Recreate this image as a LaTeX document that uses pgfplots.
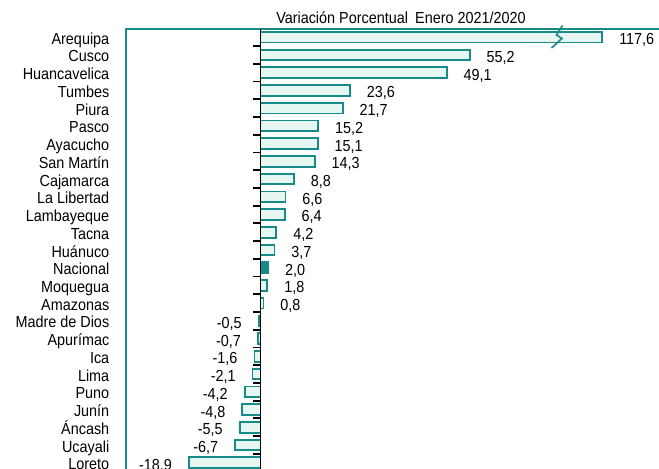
\documentclass[border=0pt]{standalone}
\usepackage{fontspec}
\setmainfont{Liberation Sans}[FakeStretch=0.9]
\usepackage{pgfplots}
\usepackage{pgfplotstable}
\pgfplotsset{compat=1.18}

\definecolor{tealc}{RGB}{23,138,138}
\definecolor{mint}{RGB}{230,247,241}
\newcommand\lbl{\fontsize{12}{14}\selectfont}

% x = value (Arequipa drawn shortened: axis break), y = row, lab = printed value
\pgfplotstableread{
x y lab
90.2 0 117,6
55.2 1 55,2
49.1 2 49,1
23.6 3 23,6
21.7 4 21,7
15.2 5 15,2
15.1 6 15,1
14.3 7 14,3
8.8 8 8,8
6.6 9 6,6
6.4 10 6,4
4.2 11 4,2
3.7 12 3,7
1.8 14 1,8
0.8 15 0,8
}\pos

\pgfplotstableread{
x y lab
2.0 13 2,0
}\nac

\pgfplotstableread{
x y lab
-0.5 16 -0,5
-0.7 17 -0,7
-1.6 18 -1,6
-2.1 19 -2,1
-4.2 20 -4,2
-4.8 21 -4,8
-5.5 22 -5,5
-6.7 23 -6,7
-18.9 24 -18,9
}\neg

\begin{document}
\begin{tikzpicture}
\useasboundingbox (0,0) rectangle (494.25pt,351pt);
\begin{axis}[
    at={(94.125pt,0pt)}, anchor=south west,
    scale only axis,
    width=400.125pt, height=329.25pt,
    xbar, bar shift=0pt, bar width=8pt,
    xmin=-35.62, xmax=105.15,
    ymin=-0.4625, ymax=24.298,
    y dir=reverse,
    enlargelimits=false, clip=false,
    axis line style={draw=none},
    tick style={draw=none}, major tick length=0pt,
    xtick=\empty,
    ytick={0,...,24},
    yticklabels={Arequipa,Cusco,Huancavelica,Tumbes,Piura,Pasco,Ayacucho,San Martín,Cajamarca,La Libertad,Lambayeque,Tacna,Huánuco,Nacional,Moquegua,Amazonas,Madre de Dios,Apurímac,Ica,Lima,Puno,Junín,Áncash,Ucayali,Loreto},
    yticklabel style={font=\lbl, text=black, anchor=base east, inner sep=0pt, xshift=-12pt, yshift=-5.3pt},
    nodes near coords,
    point meta=explicit symbolic,
    every node near coord/.append style={font=\lbl, text=black, inner sep=0pt},
]
\addplot[draw=tealc, fill=mint, line width=1.4pt,
    nodes near coords style={anchor=base west, xshift=12pt, yshift=-5.6pt}]
    table[x=x, y=y, meta=lab] {\pos};
\addplot[draw=tealc, fill=tealc, line width=1.4pt,
    nodes near coords style={anchor=base west, xshift=12pt, yshift=-5.6pt}]
    table[x=x, y=y, meta=lab] {\nac};
\addplot[draw=tealc, fill=mint, line width=1.4pt,
    nodes near coords style={anchor=base east, xshift=-12pt, yshift=-5.6pt}]
    table[x=x, y=y, meta=lab] {\neg};

% frame (top and left sides visible)
\draw[tealc, line width=1.5pt] (axis cs:-35.62,24.6) -- (axis cs:-35.62,-0.4625) -- (axis cs:110,-0.4625);
% category axis at zero with ticks between rows
\draw[black, line width=1.4pt] (axis cs:0,-0.4625) -- (axis cs:0,24.6);
\pgfplotsinvokeforeach{0,...,23}{
  \draw[black, line width=1.4pt] (axis cs:-1.85,#1.5) -- (axis cs:0,#1.5);
}
% axis break mark on Arequipa
\draw[tealc, line width=1.2pt] (axis cs:79.68,-0.66) -- (axis cs:78.1,-0.124)
    -- (axis cs:79.55,0.073) -- (axis cs:76.78,0.609);
\end{axis}
\node[font=\lbl, anchor=base] at (300.75pt,333.5pt) {Variación Porcentual\hspace{0.45em}Enero 2021/2020};
\end{tikzpicture}
\end{document}
